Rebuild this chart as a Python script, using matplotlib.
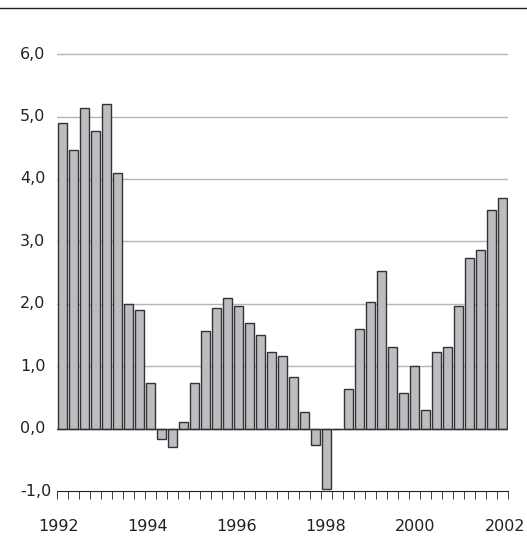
import numpy as np
import matplotlib.pyplot as plt
from matplotlib.lines import Line2D
from matplotlib.transforms import blended_transform_factory

values = [4.9, 4.47, 5.13, 4.77, 5.2, 4.1, 2.0, 1.9,
          0.73, -0.17, -0.3, 0.1, 0.73, 1.57, 1.93, 2.1,
          1.97, 1.7, 1.5, 1.23, 1.17, 0.83, 0.27, -0.27,
          -0.97, 0.0, 0.63, 1.6, 2.03, 2.53, 1.3, 0.57,
          1.0, 0.3, 1.23, 1.3, 1.97, 2.73, 2.87, 3.5, 3.7]
years = ['1992', '1994', '1996', '1998', '2000', '2002']
yticks = [-1, 0, 1, 2, 3, 4, 5, 6]

fig = plt.figure(figsize=(5.27, 5.36), dpi=100)
ax = fig.add_axes([57/527, 45/536, 451/527, 483/536])
x = np.arange(len(values))
ax.bar(x, values, width=0.78, color='#bcbdc1', edgecolor='#333333', linewidth=1.0, zorder=3)
ax.set_xlim(-0.5, len(values) - 0.5)
ax.set_ylim(-1, 6.74)
for v in yticks[2:]:
    ax.axhline(v, color='#b5b5b5', lw=1, zorder=1)
ax.axhline(0, color='#333333', lw=1, zorder=4)
for s in ['top', 'right', 'left']:
    ax.spines[s].set_visible(False)
ax.spines['bottom'].set_color('#222222')
ax.set_xticks(np.arange(len(values) + 1) - 0.5, minor=True)
ax.tick_params(axis='x', which='minor', direction='out', length=6, color='#222222')
ax.set_xticks(np.linspace(-0.4, 40.2, 6))
ax.set_xticklabels(years)
ax.tick_params(axis='x', which='major', length=0, pad=20, labelsize=11.5, labelcolor='#222222')
ax.set_yticks([])
tr = blended_transform_factory(fig.transFigure, ax.transData)
for v in yticks:
    ax.text(20/527, v, f'{v:.1f}'.replace('.', ','), transform=tr, ha='left', va='center',
            fontsize=11.5, color='#222222')
fig.add_artist(Line2D([0, 1], [1 - 8/536, 1 - 8/536], color='#222222', lw=1))
fig.savefig('out.png')
